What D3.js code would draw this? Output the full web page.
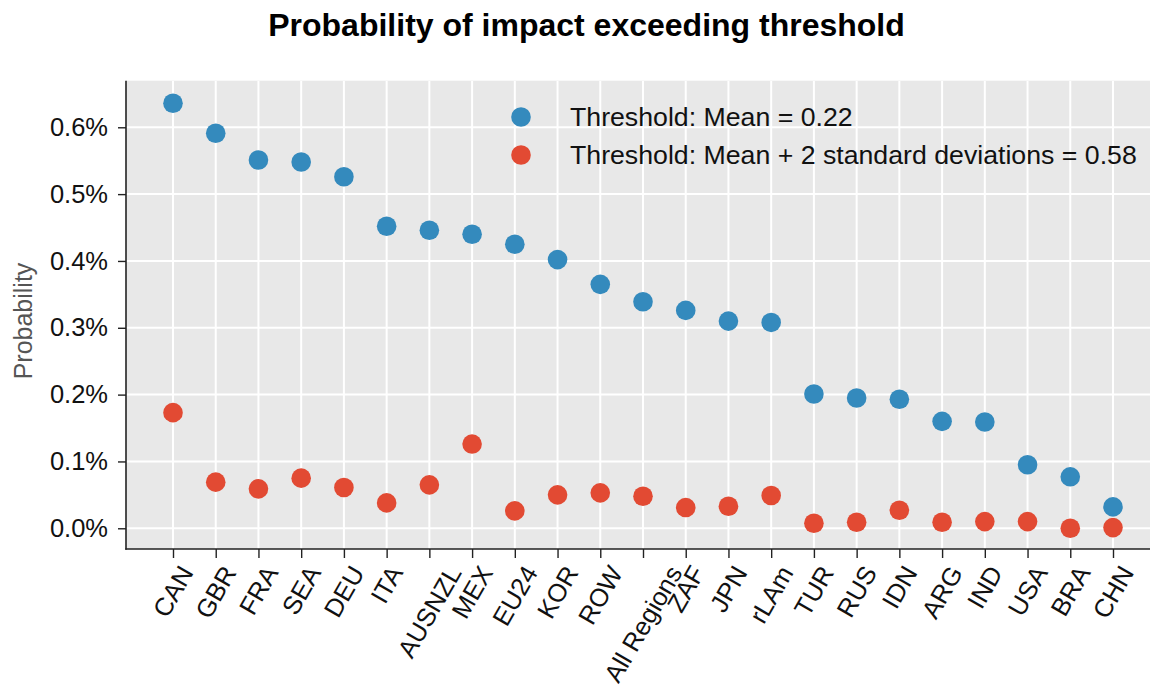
<!DOCTYPE html>
<html>
<head>
<meta charset="utf-8">
<script src="https://cdn.jsdelivr.net/npm/d3@7"></script>
<style>
  html, body { margin: 0; padding: 0; background: #ffffff; }
  svg { display: block; font-family: "Liberation Sans", Arial, sans-serif; }
</style>
</head>
<body>
<svg id="chart" width="1150" height="696"></svg>
<script>
const categories = ["CAN","GBR","FRA","SEA","DEU","ITA","AUSNZL","MEX","EU24","KOR","ROW","All Regions","ZAF","JPN","rLAm","TUR","RUS","IDN","ARG","IND","USA","BRA","CHN"];
const meanValues = [0.636,0.591,0.551,0.548,0.526,0.452,0.446,0.440,0.425,0.402,0.365,0.339,0.326,0.310,0.308,0.201,0.195,0.193,0.160,0.159,0.095,0.077,0.032];
const sdValues   = [0.173,0.069,0.059,0.075,0.061,0.038,0.065,0.126,0.026,0.050,0.053,0.048,0.031,0.033,0.049,0.0075,0.009,0.027,0.009,0.010,0.010,0.000,0.001];
const yTickValues = [0.0,0.1,0.2,0.3,0.4,0.5,0.6];
const seriesNames = ["Threshold: Mean = 0.22","Threshold: Mean + 2 standard deviations = 0.58"];
const seriesColors = ["#348ABD","#E24A33"];
const titleText = "Probability of impact exceeding threshold";
const yLabelText = "Probability";

(function () {
const svg = d3.select("#chart");
const pLeft = 126, pRight = 1160, pTop = 80.7, pBottom = 549;
const fsTick = 25.5;

const x = d3.scalePoint().domain(categories).range([pLeft, pRight]).padding(1.1);
const y = d3.scaleLinear().domain([-0.031, 0.6697]).range([pBottom, pTop]);

svg.append("defs").append("clipPath").attr("id","plotclip")
  .append("rect").attr("x", pLeft).attr("y", pTop).attr("width", pRight-pLeft).attr("height", pBottom-pTop);

svg.append("rect").attr("x", pLeft).attr("y", pTop).attr("width", pRight-pLeft).attr("height", pBottom-pTop)
  .attr("fill", "#E8E8E8");

const grid = svg.append("g").attr("clip-path","url(#plotclip)");
grid.selectAll("line.h").data(yTickValues).join("line").attr("class","h")
  .attr("x1", pLeft).attr("x2", pRight).attr("y1", d => y(d)).attr("y2", d => y(d))
  .attr("stroke", "#ffffff").attr("stroke-width", 2);
grid.selectAll("line.v").data(categories).join("line").attr("class","v")
  .attr("x1", d => x(d)).attr("x2", d => x(d)).attr("y1", pTop).attr("y2", pBottom)
  .attr("stroke", "#ffffff").attr("stroke-width", 2);

const pts = svg.append("g").attr("clip-path","url(#plotclip)");
[meanValues, sdValues].forEach((vals, si) => {
  pts.append("g").selectAll("circle").data(vals).join("circle")
    .attr("cx", (d,i) => x(categories[i]))
    .attr("cy", d => y(d))
    .attr("r", 9.8)
    .attr("fill", seriesColors[si]);
});

const yAxis = d3.axisLeft(y).tickValues(yTickValues).tickSize(8).tickSizeOuter(0).tickPadding(10)
  .tickFormat(d => d3.format(".1f")(d) + "%");
const gy = svg.append("g").attr("transform", `translate(${pLeft},0)`).call(yAxis);
gy.select(".domain").remove();
gy.selectAll(".tick line").attr("stroke", "#222").attr("stroke-width", 1.4);
gy.selectAll(".tick text").attr("font-size", fsTick).attr("fill", "#111")
  .attr("font-family", "Liberation Sans, Arial, sans-serif");

const xAxis = d3.axisBottom(x).tickSize(9).tickSizeOuter(0).tickFormat("");
const gx = svg.append("g").attr("transform", `translate(0,${pBottom})`).call(xAxis);
gx.select(".domain").remove();
gx.selectAll(".tick line").attr("stroke", "#222").attr("stroke-width", 1.4);

svg.append("line").attr("x1", pLeft).attr("x2", pLeft).attr("y1", pTop).attr("y2", pBottom + 0.7)
  .attr("stroke", "#222").attr("stroke-width", 1.6);
svg.append("line").attr("x1", pLeft - 0.7).attr("x2", pRight).attr("y1", pBottom).attr("y2", pBottom)
  .attr("stroke", "#222").attr("stroke-width", 1.6);

const rot = 60, rad = rot * Math.PI / 180, y0 = pBottom + 9 + 4;
const xl = svg.append("g");
categories.forEach(c => {
  const t = xl.append("text").text(c).attr("font-size", fsTick).attr("fill", "#111")
    .attr("text-anchor", "middle").attr("dominant-baseline", "central");
  const w = t.node().getComputedTextLength();
  const h = fsTick * 0.95;
  const H = w * Math.sin(rad) + h * Math.cos(rad);
  const cx = x(c), cy = y0 + H / 2;
  t.attr("x", cx).attr("y", cy).attr("transform", `rotate(${-rot},${cx},${cy})`);
});

svg.append("text").text(yLabelText).attr("font-size", 25).attr("fill", "#555")
  .attr("text-anchor", "middle")
  .attr("transform", `translate(31.5,321) rotate(-90)`);

svg.append("text").text(titleText).attr("x", 586.5).attr("y", 36)
  .attr("text-anchor", "middle").attr("font-size", 32).attr("font-weight", "bold").attr("fill", "#000");

const lg = svg.append("g");
seriesNames.forEach((n, i) => {
  const ly = 117 + i * 38;
  lg.append("circle").attr("cx", 521).attr("cy", ly).attr("r", 9.8).attr("fill", seriesColors[i]);
  lg.append("text").text(n).attr("x", 570).attr("y", ly).attr("dominant-baseline", "central")
    .attr("font-size", 26.7).attr("fill", "#111");
});
})();
</script>
</body>
</html>
